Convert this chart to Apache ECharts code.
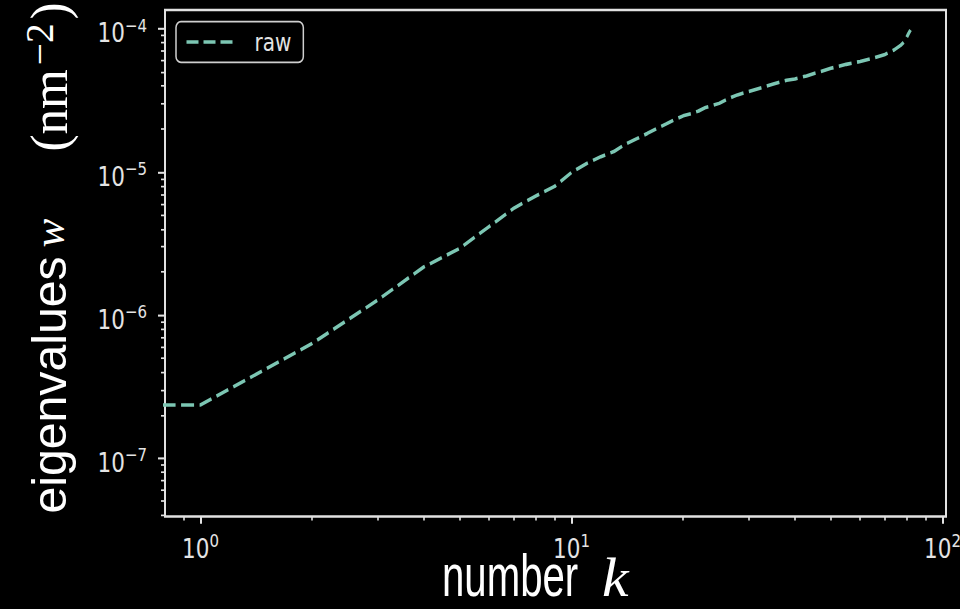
<!DOCTYPE html>
<html>
<head>
<meta charset="utf-8">
<script src="https://cdn.jsdelivr.net/npm/echarts@6/dist/echarts.min.js"></script>
<style>
  html, body { margin: 0; padding: 0; background: #000; overflow: hidden; }
  #wrap { width: 960px; height: 609px; overflow: hidden; position: relative; background: #000; }
  /* the figure is drawn 1.2x taller than wide-proportioned, so stretch it vertically */
  #chart { width: 960px; height: 507.5px; transform: scaleY(1.2); transform-origin: 0 0; }
</style>
</head>
<body>
<div id="wrap"><div id="chart"></div></div>
<script>
// eigenvalue index k and eigenvalue w (nm^-2)
const kValues = [0, 1, 2, 3, 4, 5, 6, 7, 8, 9, 10, 11, 12, 13, 14, 15, 16, 17, 18, 19, 20,
  21, 22, 23, 24, 25, 26, 27, 28, 30, 32, 35, 38, 40, 43, 46, 50, 55, 60, 65, 70, 74, 77, 79, 81, 82];
const eigenvalues = [2.35e-7, 2.35e-7, 6.34e-7, 1.27e-6, 2.17e-6, 2.93e-6, 4.16e-6, 5.6e-6, 6.79e-6, 7.93e-6, 9.93e-6,
  1.15e-5, 1.28e-5, 1.39e-5, 1.57e-5, 1.71e-5, 1.86e-5, 2.02e-5, 2.17e-5, 2.33e-5, 2.47e-5,
  2.56e-5, 2.67e-5, 2.83e-5, 2.92e-5, 3.02e-5, 3.18e-5, 3.33e-5, 3.46e-5, 3.65e-5, 3.84e-5, 4.12e-5, 4.38e-5, 4.47e-5,
  4.70e-5, 4.96e-5, 5.31e-5, 5.66e-5, 5.93e-5, 6.25e-5, 6.64e-5, 7.13e-5, 7.66e-5, 8.16e-5, 9.30e-5, 9.84e-5];
const seriesName = 'raw';

// axis ranges (data units) and tick positions
const xRange = [0.802, 102.2];
const yRange = [3.9e-8, 1.358e-4];
const xMajorTicks = [1, 10, 100];
const yMajorTicks = [1e-7, 1e-6, 1e-5, 1e-4];
const minorMultipliers = [2, 3, 4, 5, 6, 7, 8, 9];

// axis titles
const xTitle = ['number', 'k'];
const yTitle = ['eigenvalues', 'w', '(nm', '\u22122', ')'];

// k = 0 has no place on a log axis: pin it left of the visible range, the grid clips it
const K_FLOOR = 0.1;

const TEXT = '#e4e4e4';
const SPINE = '#e2e2e2';
const LINE = '#7cc6b3';
const NARROW = 0.82;   // horizontal squeeze that turns the sans face into a narrow cut

const lg = Math.log10;
const xMin = lg(xRange[0]), xMax = lg(xRange[1]);
const yMin = lg(yRange[0]), yMax = lg(yRange[1]);

function minorTicks(lo, hi) {
  const out = [];
  for (let e = Math.floor(lo) - 1; e <= Math.ceil(hi); e++) {
    minorMultipliers.forEach(m => {
      const v = e + lg(m);
      if (v >= lo && v <= hi) out.push(v);
    });
  }
  return out;
}

function powLabel(v) {
  const e = Math.round(v);
  return '{b|10}{s|' + (e < 0 ? '\u2212' + (-e) : String(e)) + '}';
}

const tickRich = {
  b: { fontFamily: 'DejaVu Sans', fontSize: 21.5, lineHeight: 25, verticalAlign: 'bottom', color: TEXT },
  s: { fontFamily: 'DejaVu Sans', fontSize: 15, lineHeight: 15, verticalAlign: 'top', color: TEXT }
};

const base = {
  type: 'value',
  splitLine: { show: false },
  axisLine: { show: false, onZero: false }
};

const seriesData = kValues.map((k, i) => [lg(Math.max(k, K_FLOOR)), lg(eigenvalues[i])]);

const chart = echarts.init(document.getElementById('chart'), null, { renderer: 'svg' });
chart.setOption({
  backgroundColor: '#000',
  animation: false,
  grid: {
    left: 165, right: 14, top: 8.33, height: 422.1,
    containLabel: false, outerBoundsMode: 'none',
    show: true, borderColor: SPINE, borderWidth: 2, backgroundColor: 'transparent'
  },
  legend: {
    data: [seriesName],
    left: 176, top: 18,
    orient: 'vertical',
    padding: [7, 12, 7, 9],
    itemWidth: 46, itemHeight: 14,
    backgroundColor: '#000',
    borderColor: '#cfcfcf', borderWidth: 1.5, borderRadius: 5,
    itemStyle: { opacity: 0 },
    lineStyle: { type: [12, 5], width: 3 },
    textStyle: { color: TEXT, fontFamily: 'DejaVu Sans', fontSize: 20, padding: [0, 0, 0, 17] }
  },
  xAxis: [
    Object.assign({}, base, {
      position: 'bottom', min: xMin, max: xMax,
      axisTick: { show: true, length: 6, customValues: xMajorTicks.map(lg), lineStyle: { color: SPINE, width: 2 } },
      axisLabel: { show: true, customValues: xMajorTicks.map(lg), margin: 13, formatter: powLabel, rich: tickRich }
    }),
    Object.assign({}, base, {
      position: 'bottom', min: xMin, max: xMax,
      axisTick: { show: true, length: 3.3, customValues: minorTicks(xMin, xMax), lineStyle: { color: SPINE, width: 1.6 } },
      axisLabel: { show: false }
    })
  ],
  yAxis: [
    Object.assign({}, base, {
      position: 'left', min: yMin, max: yMax,
      axisTick: { show: true, length: 7, customValues: yMajorTicks.map(lg), lineStyle: { color: SPINE, width: 1.7 } },
      axisLabel: { show: true, customValues: yMajorTicks.map(lg), margin: 18, padding: [5, 0, 0, 0], formatter: powLabel, rich: tickRich }
    }),
    Object.assign({}, base, {
      position: 'left', min: yMin, max: yMax,
      axisTick: { show: true, length: 4, customValues: minorTicks(yMin, yMax), lineStyle: { color: SPINE, width: 1.4 } },
      axisLabel: { show: false }
    })
  ],
  graphic: [
    // x title: narrow sans word followed by an italic math k
    {
      type: 'text', x: 442, y: 479.3, scaleX: NARROW, silent: true,
      style: { text: xTitle[0], fontFamily: 'Liberation Sans', fontSize: 49, lineHeight: 30,
               fill: '#fff', align: 'left', verticalAlign: 'middle' }
    },
    {
      type: 'text', x: 602, y: 480.8, scaleX: 1.3, silent: true,
      style: { text: xTitle[1], fontFamily: 'Liberation Serif', fontStyle: 'italic', fontSize: 46, lineHeight: 30,
               fill: '#fff', align: 'left', verticalAlign: 'middle' }
    },
    // y title, reading bottom to top along the left edge
    {
      type: 'text', x: 49, y: 428, rotation: Math.PI / 2, scaleX: NARROW, silent: true,
      style: {
        text: '{t|' + yTitle[0] + '}{i|' + yTitle[1] + '}{r|' + yTitle[2] + '}{s|' + yTitle[3] + '}{p|' + yTitle[4] + '}',
        fill: '#fff', align: 'left', verticalAlign: 'middle',
        rich: {
          t: { fontFamily: 'Liberation Sans', fontSize: 49, lineHeight: 58, fill: '#fff' },
          i: { fontFamily: 'Liberation Serif', fontStyle: 'italic', fontSize: 44, lineHeight: 58,
               padding: [0, 0, 0, 9], fill: '#fff' },
          r: { fontFamily: 'Liberation Serif', fontSize: 52, lineHeight: 58, padding: [0, 0, 0, 68], fill: '#fff' },
          s: { fontFamily: 'Liberation Serif', fontSize: 40, lineHeight: 36, verticalAlign: 'top',
               padding: [0, 4, 0, 4], fill: '#fff' },
          p: { fontFamily: 'Liberation Serif', fontSize: 52, lineHeight: 58, fill: '#fff' }
        }
      }
    }
  ],
  series: [{
    name: seriesName,
    type: 'line',
    xAxisIndex: 0, yAxisIndex: 0,
    data: seriesData,
    symbol: 'none',
    clip: true,
    lineStyle: { color: LINE, width: 3, type: [13, 5.5] },
    itemStyle: { color: LINE }
  }]
});
</script>
</body>
</html>
